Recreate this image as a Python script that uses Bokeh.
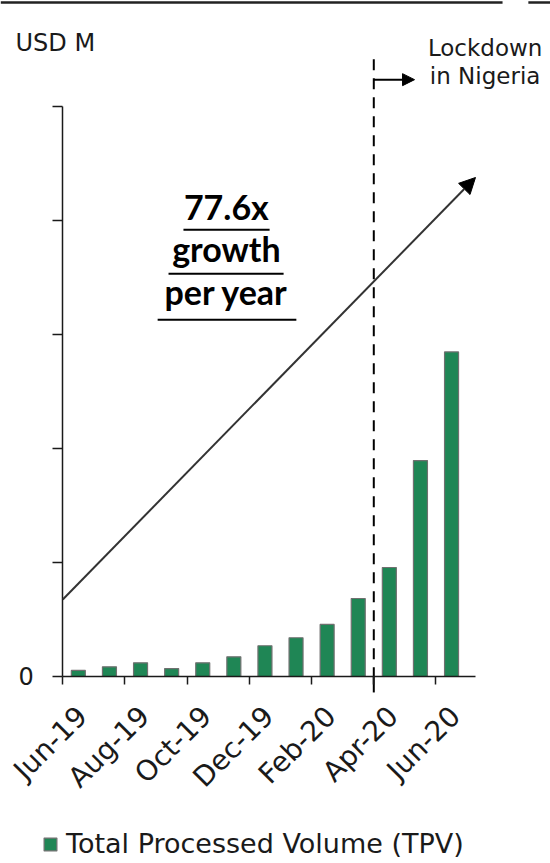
import math

from bokeh.plotting import figure
from bokeh.models import (Range1d, FixedTicker, LinearAxis, Arrow, NormalHead,
                          Label, Legend, LegendItem, ColumnDataSource)
from bokeh.embed import file_html
from bokeh.resources import INLINE

# Monthly total processed volume, USD M
months = ["Jun-19", "Jul-19", "Aug-19", "Sep-19", "Oct-19", "Nov-19", "Dec-19",
          "Jan-20", "Feb-20", "Mar-20", "Apr-20", "May-20", "Jun-20"]
tpv = [0.53, 0.85, 1.2, 0.7, 1.2, 1.73, 2.7, 3.4, 4.57, 6.85, 9.57, 18.96, 28.5]
y_ticks = [0, 10, 20, 30, 40, 50]
x_tick_labels = months[::2]
lockdown_month = "Apr-20"

GREEN = "#1f8655"
INK = "#1a1a1a"
FONT = "DejaVu Sans"

# the plotting frame spans the whole page; the axes sit at the data origin
x_end = 13.27
p = figure(width=550, height=863, output_backend="svg", toolbar_location=None,
           x_range=Range1d(-2.003, 15.682), y_range=Range1d(-16.418, 59.35),
           x_axis_location=None, y_axis_location=None,
           min_border=0, min_border_left=0, min_border_right=0,
           min_border_top=0, min_border_bottom=0)
p.grid.visible = False
p.outline_line_color = None

src = ColumnDataSource(dict(x=[i + 0.5 for i in range(len(months))], tpv=tpv))
bars = p.vbar(x="x", top="tpv", width=0.45, source=src, fill_color=GREEN,
              line_color="#707070", line_width=1.2)

tick_pos = [2 * i for i in range(len(x_tick_labels))]

# x axis: line and a tick every second month boundary
xa = LinearAxis(fixed_location=0, bounds=(0, x_end),
                ticker=FixedTicker(ticks=tick_pos),
                major_label_overrides={t: "" for t in tick_pos},
                minor_tick_line_color=None, major_tick_in=0, major_tick_out=8,
                axis_line_width=1.5, major_tick_line_width=1.5,
                axis_line_color=INK, major_tick_line_color=INK)
p.add_layout(xa, "below")

# slanted month labels, set just right of their ticks
label_shift = 0.62
label_pos = [t + label_shift for t in tick_pos]
xl = LinearAxis(fixed_location=0, ticker=FixedTicker(ticks=label_pos),
                major_label_overrides={t: lab for t, lab in zip(label_pos, x_tick_labels)},
                major_label_orientation=math.pi / 4,
                axis_line_color=None, major_tick_line_color=None,
                minor_tick_line_color=None, major_tick_in=0, major_tick_out=8,
                major_label_standoff=27, major_label_text_font=FONT,
                major_label_text_font_size="28px", major_label_text_color=INK)
p.add_layout(xl, "below")

# y axis: only the zero tick carries a label
ya = LinearAxis(fixed_location=0, bounds=(0, y_ticks[-1]),
                ticker=FixedTicker(ticks=y_ticks),
                major_label_overrides={t: ("0" if t == 0 else "") for t in y_ticks},
                minor_tick_line_color=None, major_tick_in=0, major_tick_out=10,
                axis_line_width=1.5, major_tick_line_width=1.5,
                axis_line_color=INK, major_tick_line_color=INK,
                major_label_text_font=FONT, major_label_text_font_size="24px",
                major_label_text_color=INK, major_label_standoff=19)
p.add_layout(ya, "left")

# rule across the top of the page
p.segment(x0=[-2.0, 14.97], y0=[59.17, 59.17], x1=[14.14, 15.68], y1=[59.17, 59.17],
          line_color="#222222", line_width=2.5)

# unit label
p.add_layout(Label(x=-1.52, y=54.35, text="USD M", text_font=FONT,
                   text_font_size="24px", text_color=INK))

# lockdown marker at the Apr-20 boundary
lx = months.index(lockdown_month)
p.segment(x0=[lx], y0=[54.2], x1=[lx], y1=[0], line_color="black", line_width=2,
          line_dash="11 8")
p.segment(x0=[lx], y0=[0], x1=[lx], y1=[-1.4], line_color="black", line_width=2)
p.add_layout(Arrow(x_start=lx, y_start=52.4, x_end=lx + 1.31, y_end=52.4,
                   end=NormalHead(size=12, fill_color="black", line_color="black"),
                   line_color="black", line_width=2))
p.add_layout(Label(x=13.58, y=54.08, text="Lockdown", text_align="center",
                   text_font=FONT, text_font_size="23px", text_color=INK))
p.add_layout(Label(x=13.58, y=51.62, text="in Nigeria", text_align="center",
                   text_font=FONT, text_font_size="23px", text_color=INK))

# growth trend arrow
p.add_layout(Arrow(x_start=0, y_start=6.76, x_end=13.27, y_end=43.81,
                   end=NormalHead(size=16, fill_color="black", line_color="black"),
                   line_color="#333333", line_width=2))

# growth callout, underlined
callout = [("77.6x", 39.45, 39.22, 3.88, 6.65),
           ("growth", 35.79, 35.36, 3.40, 7.10),
           ("per year", 31.98, 31.32, 3.05, 7.51)]
for txt, ty, uy, ux0, ux1 in callout:
    p.add_layout(Label(x=5.26, y=ty, text=txt, text_align="center",
                       text_font="Lato", text_font_style="bold",
                       text_font_size="34px", text_color="black"))
    p.segment(x0=[ux0], y0=[uy], x1=[ux1], y1=[uy], line_color="black",
              line_width=2)

legend = Legend(items=[LegendItem(label="Total Processed Volume (TPV)",
                                  renderers=[bars])],
                location=(42, 4), orientation="horizontal",
                label_text_font=FONT, label_text_font_size="27px",
                label_text_color=INK, glyph_width=16, glyph_height=16,
                label_standoff=8, padding=0, spacing=0, margin=0,
                border_line_color=None, background_fill_alpha=0)
p.add_layout(legend)

open("out.html", "w").write(file_html(p, INLINE))
